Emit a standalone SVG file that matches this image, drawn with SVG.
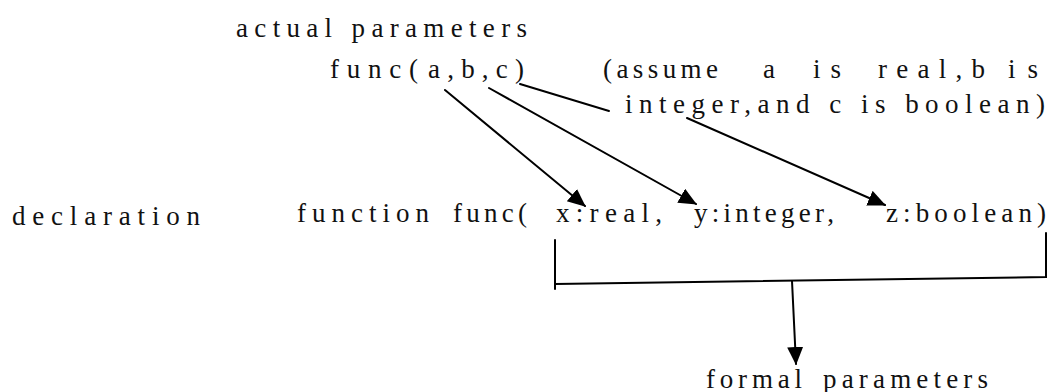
<svg xmlns="http://www.w3.org/2000/svg" width="1062" height="392" viewBox="0 0 1062 392">
<style>
text{font-family:"Liberation Serif","DejaVu Serif",serif;font-size:27px;fill:#111;}
.c{stroke:#000;stroke-width:2;fill:none;stroke-linecap:round;}
</style>
<defs>
<marker id="ah" markerUnits="userSpaceOnUse" markerWidth="22" markerHeight="18" refX="17" refY="8" orient="auto">
<path d="M0,0 L18,8 L0,16 Z" fill="#000"/>
</marker>
</defs>
<rect width="1062" height="392" fill="#fff"/>
<g id="actual-label"><text x="236" y="37" textLength="291" lengthAdjust="spacing">actual parameters</text></g>
<g id="call">
<text x="330" y="78" textLength="88" lengthAdjust="spacing">func(</text>
<text x="428" y="78" textLength="96" lengthAdjust="spacing">a,b,c)</text>
</g>
<g id="note">
<text x="603" y="78" textLength="115" lengthAdjust="spacing">(assume</text>
<text x="763" y="78">a</text>
<text x="813" y="78" textLength="28" lengthAdjust="spacing">is</text>
<text x="878" y="78" textLength="107" lengthAdjust="spacing">real,b</text>
<text x="1008" y="78" textLength="30" lengthAdjust="spacing">is</text>
<text x="625" y="113" textLength="420" lengthAdjust="spacing">integer,and c is boolean)</text>
</g>
<g id="declaration-label"><text x="12" y="225" textLength="188" lengthAdjust="spacing">declaration</text></g>
<g id="declaration">
<text x="297" y="222" textLength="132" lengthAdjust="spacing">function</text>
<text x="453" y="222" textLength="74" lengthAdjust="spacing">func(</text>
<text x="556" y="222" textLength="106" lengthAdjust="spacing">x:real,</text>
<text x="694" y="222" textLength="140" lengthAdjust="spacing">y:integer,</text>
<text x="886" y="222" textLength="160" lengthAdjust="spacing">z:boolean)</text>
</g>
<g id="formal-label">
<text x="706" y="388" textLength="96" lengthAdjust="spacing">formal</text>
<text x="823" y="388" textLength="165" lengthAdjust="spacing">parameters</text>
</g>
<g id="connectors">
<line class="c" x1="445" y1="90" x2="585" y2="206" marker-end="url(#ah)"/>
<line class="c" x1="489" y1="88" x2="696" y2="204" marker-end="url(#ah)"/>
<line class="c" x1="520" y1="84" x2="609" y2="111"/>
<line class="c" x1="687" y1="118" x2="885" y2="205" marker-end="url(#ah)"/>
<polyline class="c" points="555,240 555,289"/>
<polyline class="c" points="555,284 1046,277 1046,233"/>
<line class="c" x1="792" y1="281" x2="796" y2="364" marker-end="url(#ah)"/>
</g>
</svg>
